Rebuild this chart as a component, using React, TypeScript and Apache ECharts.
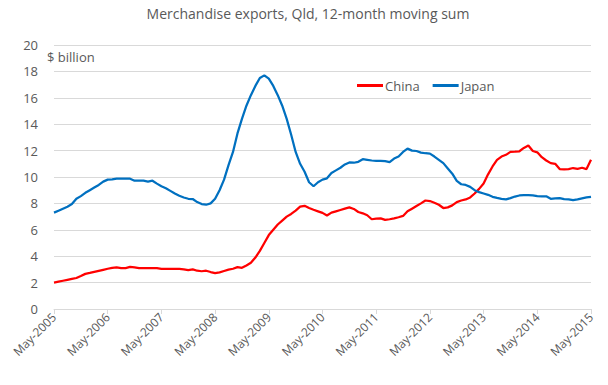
import React, { useEffect, useRef } from "react";
import * as echarts from "echarts";

const MONTHS = ["Jan", "Feb", "Mar", "Apr", "May", "Jun", "Jul", "Aug", "Sep", "Oct", "Nov", "Dec"];
const START_YEAR = 2005;
const START_MONTH = 4; // May
const COUNT = 121;

const categories: string[] = [];
for (let i = 0; i < COUNT; i++) {
  const m = (START_MONTH + i) % 12;
  const y = START_YEAR + Math.floor((START_MONTH + i) / 12);
  categories.push(`${MONTHS[m]}-${y}`);
}

const china = [
  2.0, 2.07, 2.14, 2.21, 2.28, 2.35, 2.5, 2.66, 2.73, 2.81, 2.89, 2.97,
  3.05, 3.12, 3.16, 3.1, 3.1, 3.19, 3.15, 3.1, 3.1, 3.1, 3.1, 3.1,
  3.04, 3.04, 3.04, 3.04, 3.04, 3.0, 2.94, 3.0, 2.9, 2.86, 2.9, 2.8,
  2.72, 2.78, 2.88, 2.98, 3.05, 3.17, 3.12, 3.3, 3.5, 3.9, 4.4, 5.0,
  5.6, 6.0, 6.4, 6.7, 7.0, 7.2, 7.45, 7.75, 7.82, 7.65, 7.52, 7.4,
  7.28, 7.08, 7.3, 7.4, 7.5, 7.6, 7.7, 7.58, 7.35, 7.25, 7.1, 6.8,
  6.85, 6.87, 6.75, 6.8, 6.87, 6.95, 7.05, 7.4, 7.6, 7.8, 8.0, 8.22,
  8.18, 8.05, 7.9, 7.65, 7.7, 7.85, 8.1, 8.22, 8.3, 8.45, 8.75, 9.1,
  9.5, 10.2, 10.8, 11.3, 11.55, 11.68, 11.9, 11.92, 11.95, 12.2, 12.38, 11.97,
  11.87, 11.5, 11.25, 11.05, 11.0, 10.6, 10.57, 10.6, 10.68, 10.62, 10.7, 10.6,
  11.3,
];

const japan = [
  7.3, 7.45, 7.6, 7.75, 7.95, 8.35, 8.55, 8.8, 9.0, 9.2, 9.4, 9.65,
  9.8, 9.82, 9.87, 9.88, 9.88, 9.87, 9.72, 9.72, 9.72, 9.65, 9.72, 9.5,
  9.3, 9.15, 8.95, 8.75, 8.58, 8.45, 8.35, 8.33, 8.1, 7.95, 7.9, 8.0,
  8.35, 9.0, 9.8, 10.9, 11.9, 13.3, 14.4, 15.4, 16.2, 16.9, 17.5, 17.7,
  17.45, 16.9, 16.2, 15.4, 14.4, 13.2, 11.9, 11.0, 10.4, 9.6, 9.3, 9.6,
  9.8, 9.9, 10.3, 10.5, 10.7, 10.95, 11.1, 11.08, 11.15, 11.35, 11.3, 11.25,
  11.23, 11.23, 11.2, 11.13, 11.4, 11.55, 11.9, 12.15, 12.0, 11.97, 11.85, 11.8,
  11.77, 11.55, 11.3, 11.05, 10.65, 10.25, 9.7, 9.45, 9.4, 9.25, 9.0, 8.85,
  8.75, 8.65, 8.5, 8.42, 8.35, 8.3, 8.4, 8.52, 8.6, 8.62, 8.62, 8.6,
  8.55, 8.54, 8.54, 8.35, 8.38, 8.4, 8.32, 8.31, 8.25, 8.3, 8.38, 8.45,
  8.5,
];

const TITLE = "Merchandise exports, Qld, 12-month moving sum";
const UNIT = "$ billion";
const FONT = "'Open Sans', 'Noto Sans', sans-serif";
const TEXT_COLOR = "#595959";

export default function App() {
  const ref = useRef<HTMLDivElement>(null);
  useEffect(() => {
    if (!ref.current) return;
    const chart = echarts.init(ref.current, undefined, { renderer: "svg" });
    chart.setOption({
      animation: false,
      backgroundColor: "#ffffff",
      title: {
        text: TITLE,
        left: 308,
        textAlign: "center",
        top: 6,
        padding: 0,
        textStyle: { fontFamily: FONT, fontSize: 14, fontWeight: "normal", color: TEXT_COLOR },
      },
      legend: {
        data: ["China", "Japan"],
        left: 352,
        top: 74,
        icon: "rect",
        itemWidth: 26,
        itemHeight: 3,
        itemGap: 13,
        textStyle: { fontFamily: FONT, fontSize: 13, color: TEXT_COLOR, padding: [0, 0, 0, -3] },
      },
      graphic: [
        {
          type: "text",
          left: 47,
          top: 50,
          style: { text: UNIT, fontFamily: FONT, fontSize: 13, fill: TEXT_COLOR },
        },
      ],
      grid: { left: 54, right: 17, top: 45, bottom: 76 },
      xAxis: {
        type: "category",
        data: categories,
        boundaryGap: false,
        axisLine: { lineStyle: { color: "#D9D9D9", width: 1 } },
        axisTick: { interval: 11, length: 5, lineStyle: { color: "#D9D9D9" } },
        axisLabel: {
          interval: 11,
          rotate: 45,
          fontFamily: FONT,
          fontSize: 12,
          color: TEXT_COLOR,
          margin: 6,
        },
        splitLine: { show: false },
      },
      yAxis: {
        type: "value",
        min: 0,
        max: 20,
        interval: 2,
        axisLine: { show: false },
        axisTick: { show: false },
        axisLabel: { fontFamily: FONT, fontSize: 13, color: TEXT_COLOR, margin: 16 },
        splitLine: { lineStyle: { color: "#D9D9D9", width: 1 } },
      },
      series: [
        {
          name: "China",
          type: "line",
          data: china,
          showSymbol: false,
          symbol: "none",
          lineStyle: { color: "#FF0000", width: 2.25 },
          itemStyle: { color: "#FF0000" },
        },
        {
          name: "Japan",
          type: "line",
          data: japan,
          showSymbol: false,
          symbol: "none",
          lineStyle: { color: "#0070C0", width: 2.25 },
          itemStyle: { color: "#0070C0" },
        },
      ],
    });
    return () => chart.dispose();
  }, []);
  return (
    <div
      ref={ref}
      style={{ position: "fixed", left: 0, top: 0, width: 608, height: 385 }}
    />
  );
}
